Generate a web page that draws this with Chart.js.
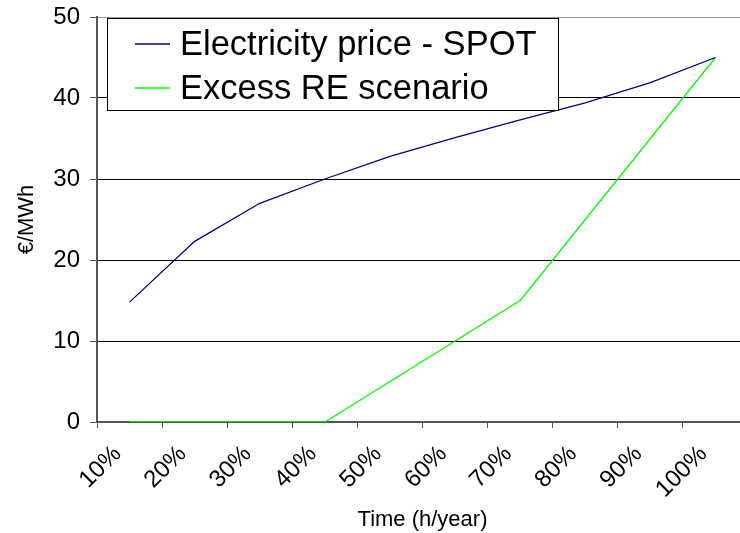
<!DOCTYPE html>
<html lang="en">
<head>
    <meta charset="UTF-8">
    <title>Electricity price - SPOT vs Excess RE scenario</title>
    <script src="https://cdn.jsdelivr.net/npm/chart.js"></script>
    <style>
        html, body {
            margin: 0;
            padding: 0;
            background: #ffffff;
            overflow: hidden;
        }
        .chart-container {
            width: 760px;
            height: 533px;
        }
    </style>
</head>
<body>
    <div class="chart-container">
        <canvas id="priceChart"></canvas>
    </div>

    <script>
        // Data
        const categories = ['10%', '20%', '30%', '40%', '50%', '60%', '70%', '80%', '90%', '100%'];
        const spotPrice = [14.8, 22.3, 27.0, 30.0, 32.8, 35.1, 37.3, 39.4, 41.9, 45.0];
        const excessRE = [0, 0, 0, 0, 5, 10, 15, 25, 35, 45];
        const seriesNames = ['Electricity price - SPOT', 'Excess RE scenario'];
        const yTicks = [0, 10, 20, 30, 40, 50];

        Chart.defaults.font.family = "'Liberation Sans', Arial, sans-serif";
        Chart.defaults.color = '#000';

        // Legend box drawn inside the plot area, Excel style
        const boxLegend = {
            id: 'boxLegend',
            afterDatasetsDraw(chart) {
                const { ctx, chartArea } = chart;
                const x = chartArea.left + 10;
                const y = chartArea.top + 1;
                const w = 451, h = 92;
                ctx.save();
                ctx.fillStyle = '#fff';
                ctx.fillRect(x, y, w, h);
                ctx.strokeStyle = '#000';
                ctx.lineWidth = 1;
                ctx.strokeRect(x + 0.5, y + 0.5, w, h);
                ctx.font = "34.5px 'Liberation Sans', Arial, sans-serif";
                ctx.textBaseline = 'middle';
                chart.data.datasets.forEach((ds, i) => {
                    const ly = y + 26 + i * 44;
                    ctx.strokeStyle = ds.borderColor;
                    ctx.lineWidth = 1.3;
                    ctx.beginPath();
                    ctx.moveTo(x + 28, ly);
                    ctx.lineTo(x + 63, ly);
                    ctx.stroke();
                    ctx.fillStyle = '#000';
                    ctx.fillText(ds.label, x + 73, ly + 1);
                });
                ctx.restore();
            }
        };

        const ctx = document.getElementById('priceChart').getContext('2d');
        const priceChart = new Chart(ctx, {
            type: 'line',
            data: {
                labels: categories,
                datasets: [{
                    label: seriesNames[0],
                    data: spotPrice,
                    borderColor: '#000080',
                    borderWidth: 1.3,
                    pointRadius: 0,
                    tension: 0,
                    fill: false
                }, {
                    label: seriesNames[1],
                    data: excessRE,
                    borderColor: '#00ff00',
                    borderWidth: 1.3,
                    pointRadius: 0,
                    tension: 0,
                    fill: false
                }]
            },
            options: {
                responsive: true,
                maintainAspectRatio: false,
                animation: false,
                layout: {
                    padding: { top: 17, right: 12, left: 0, bottom: 0 }
                },
                plugins: {
                    legend: { display: false },
                    tooltip: { enabled: false }
                },
                scales: {
                    x: {
                        offset: true,
                        grid: {
                            offset: true,
                            drawOnChartArea: false,
                            tickLength: 6,
                            tickColor: '#555',
                            tickWidth: 1
                        },
                        border: { color: '#555', width: 2 },
                        ticks: {
                            autoSkip: false,
                            minRotation: 45,
                            maxRotation: 45,
                            padding: 12,
                            labelOffset: -12,
                            font: { size: 24 }
                        },
                        title: {
                            display: true,
                            text: 'Time (h/year)',
                            font: { size: 22 },
                            padding: { top: 0, bottom: 0 }
                        },
                        afterFit(scale) {
                            scale.height = 111;
                            scale.paddingLeft = 0;
                            scale.paddingRight = 0;
                        }
                    },
                    y: {
                        min: yTicks[0],
                        max: yTicks[yTicks.length - 1],
                        afterBuildTicks(scale) {
                            scale.ticks = yTicks.map(v => ({ value: v }));
                        },
                        grid: {
                            color: c => c.tick.value === 50 ? '#999' : (c.tick.value === 0 ? 'rgba(0,0,0,0)' : '#000'),
                            lineWidth: 1,
                            tickLength: 7,
                            tickColor: '#555'
                        },
                        border: { color: '#555', width: 2 },
                        ticks: {
                            padding: 10,
                            font: { size: 24 }
                        },
                        title: {
                            display: true,
                            text: '€/MWh',
                            font: { size: 22 },
                            padding: { top: 14, bottom: 0 }
                        },
                        afterFit(scale) {
                            scale.width = 97;
                            scale.paddingTop = 0;
                            scale.paddingBottom = 0;
                        }
                    }
                }
            },
            plugins: [boxLegend]
        });
    </script>
</body>
</html>
